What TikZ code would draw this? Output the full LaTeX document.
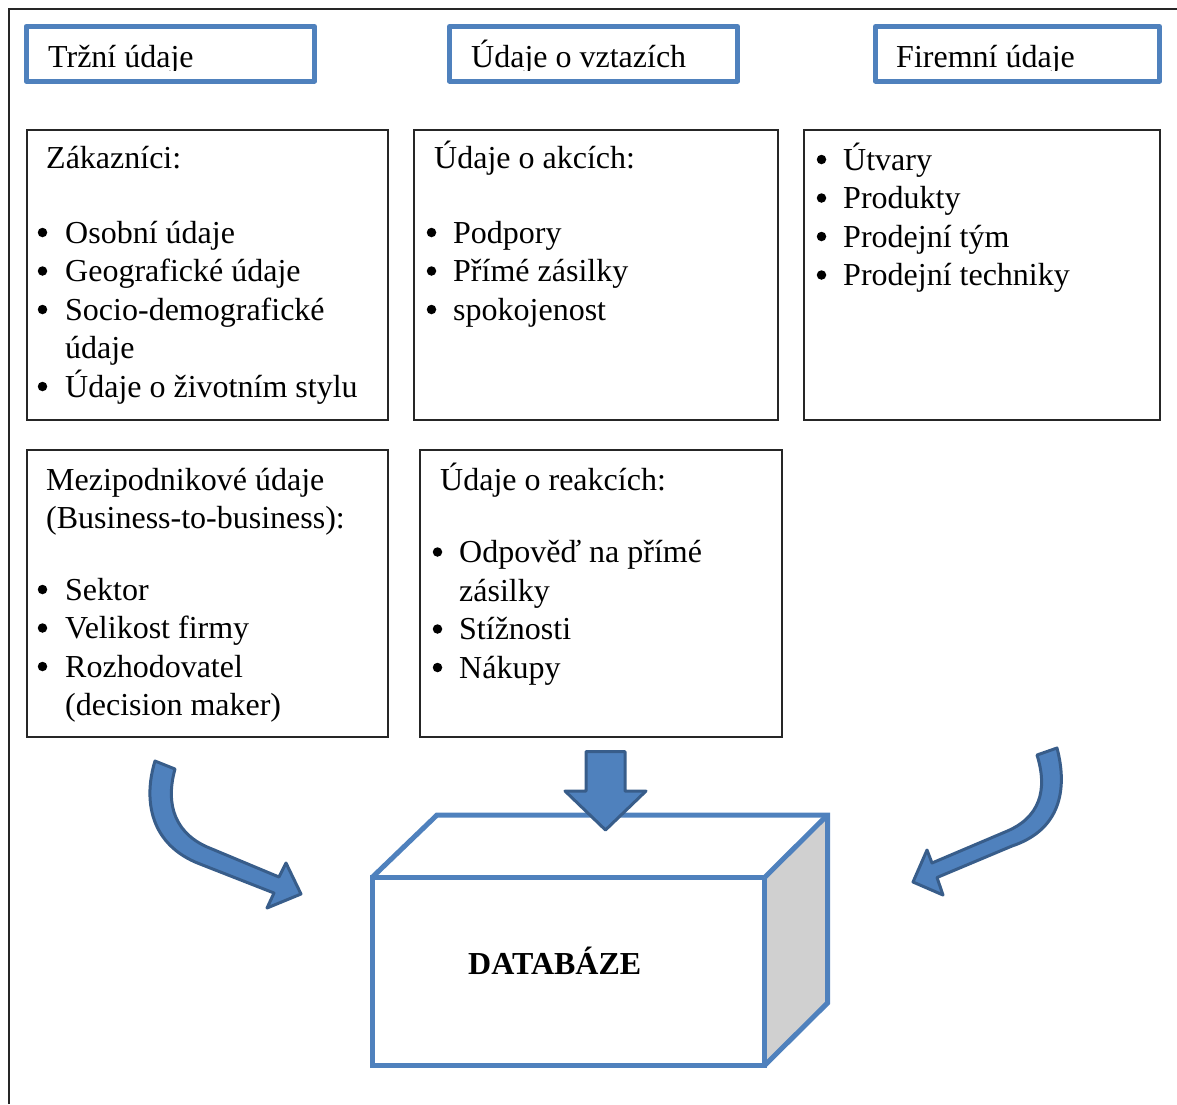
\documentclass[tikz,border=0pt]{standalone}
\usepackage{fontspec}
\setmainfont{Liberation Serif}
\usepackage{tikz}
\usetikzlibrary{positioning}
\definecolor{accentblue}{RGB}{79,129,189}
\definecolor{arrowedge}{RGB}{56,93,138}
\definecolor{sidegray}{RGB}{208,208,208}

\begin{document}
\begin{tikzpicture}[
  x=1pt, y=-1pt,
  txt/.style={anchor=base west, inner sep=0pt, font=\fontsize{32}{38.5}\selectfont},
  dot/.style={circle, fill=black, inner sep=0pt, minimum size=9.5pt},
  hdrbox/.style={draw=accentblue, line width=5pt, line join=round, outer sep=0pt, anchor=north west, minimum height=54.5pt},
  listbox/.style={draw=black!85, line width=1.3pt, outer sep=0pt, anchor=north west},
  cubeline/.style={draw=accentblue, line width=5pt},
  blockarrow/.style={fill=accentblue, draw=arrowedge, line width=3pt, line join=round}
]
  \useasboundingbox (0,0) rectangle (1177,1104);

  % page frame
  \draw[black!85, line width=1.5pt] (9,1104) -- (9,9) -- (1177,9);

  % Row 1: headers
  \node[hdrbox, minimum width=288.5pt] (hmkt) at (26,26.5) {};
  \node[hdrbox, minimum width=288pt] (hrel) at (449.5,26.5) {};
  \node[hdrbox, minimum width=284pt] (hfirm) at (875.5,26.5) {};
  \begin{scope}
    \clip (0,0) rectangle (1177,70);
    \node[txt] (tmkt) at (48,67.5) {Tržní údaje};
    \node[txt] (trel) at (471,67.5) {Údaje o vztazích};
    \node[txt] (tfirm) at (896,67.5) {Firemní údaje};
  \end{scope}

  % Row 2: customers, actions, company
  \node[listbox, minimum width=361pt, minimum height=290pt] (cust) at (27,130) {};
  \node[listbox, minimum width=364pt, minimum height=290pt] (act) at (414,130) {};
  \node[listbox, minimum width=356pt, minimum height=290pt] (comp) at (804,130) {};

  \node[txt] (custhead) at (46,168) {Zákazníci:};
  \node[txt] (cust1) at (65,243) {Osobní údaje};
  \node[txt] (cust2) at (65,281.5) {Geografické údaje};
  \node[txt] (cust3) at (65,320) {Socio-demografické};
  \node[txt] (cust3b) at (65,358.5) {údaje};
  \node[txt] (cust4) at (65,397) {Údaje o životním stylu};
  \foreach \y in {243,281.5,320,397}
    \node[dot] at (42.5,\y-10.5) {};

  \node[txt] (acthead) at (434,168) {Údaje o akcích:};
  \node[txt] (act1) at (453,243) {Podpory};
  \node[txt] (act2) at (453,281.5) {Přímé zásilky};
  \node[txt] (act3) at (453,320) {spokojenost};
  \foreach \y in {243,281.5,320}
    \node[dot] at (431.5,\y-10.5) {};

  \node[txt] (comp1) at (843,170) {Útvary};
  \node[txt] (comp2) at (843,208.5) {Produkty};
  \node[txt] (comp3) at (843,247) {Prodejní tým};
  \node[txt] (comp4) at (843,285.5) {Prodejní techniky};
  \foreach \y in {170,208.5,247,285.5}
    \node[dot] at (821.5,\y-10.5) {};

  % Row 3: business-to-business, reactions
  \node[listbox, minimum width=361pt, minimum height=287pt] (btob) at (27,450) {};
  \node[listbox, minimum width=362pt, minimum height=287pt] (react) at (420,450) {};

  \node[txt] (btobhead) at (46,490) {Mezipodnikové údaje};
  \node[txt] (btobhead2) at (46,528.5) {(Business-to-business):};
  \node[txt] (btob1) at (65,600) {Sektor};
  \node[txt] (btob2) at (65,638.5) {Velikost firmy};
  \node[txt] (btob3) at (65,677) {Rozhodovatel};
  \node[txt] (btob3b) at (65,715.5) {(decision maker)};
  \foreach \y in {600,638.5,677}
    \node[dot] at (42.5,\y-10.5) {};

  \node[txt] (reacthead) at (440,490) {Údaje o reakcích:};
  \node[txt] (react1) at (459,562.5) {Odpověď na přímé};
  \node[txt] (react1b) at (459,601) {zásilky};
  \node[txt] (react2) at (459,639.5) {Stížnosti};
  \node[txt] (react3) at (459,678) {Nákupy};
  \foreach \y in {562.5,639.5,678}
    \node[dot] at (437.5,\y-10.5) {};

  % database cube
  \node[cubeline, fill=white, outer sep=0pt, anchor=north west, minimum width=392.5pt, minimum height=188pt] (dbfront) at (372,877.5) {};
  \fill[sidegray] (dbfront.north east) -- ++(63,-62.5) -- ++(0,188) -- (dbfront.south east) -- cycle;
  \draw[cubeline] (dbfront.north west) -- ++(65,-62.5) -- ++(390.5,0) -- ++(0,188) -- (dbfront.south east);
  \draw[cubeline] (dbfront.north east) -- ++(63,-62.5);
  \draw[cubeline] (dbfront.north east) -- (dbfront.south east);
  \node[txt, font=\fontsize{32}{38.5}\selectfont\bfseries] (dbname) at (468,974) {DATABÁZE};

  % block arrows
  \draw[blockarrow] (155,761) -- (175,769) .. controls (165,805) and (175,835) .. (212,849)
    -- (279,877) -- (286,863) -- (301,894) -- (267,908) -- (274,893)
    -- (200,864) .. controls (150,845) and (143,800) .. (155,761) -- cycle;
  \draw[blockarrow] (586,751.5) -- (625,751.5) -- (625,791) -- (646,791) -- (605.5,830)
    -- (565,791) -- (586,791) -- cycle;
  \draw[blockarrow] (1037,755) -- (1057,748) .. controls (1068,790) and (1060,830) .. (1012,846)
    -- (937,877.5) -- (943,895) -- (913,882) -- (927,850) -- (932,863)
    -- (1005,832) .. controls (1040,818) and (1048,790) .. (1037,755) -- cycle;
\end{tikzpicture}
\end{document}
